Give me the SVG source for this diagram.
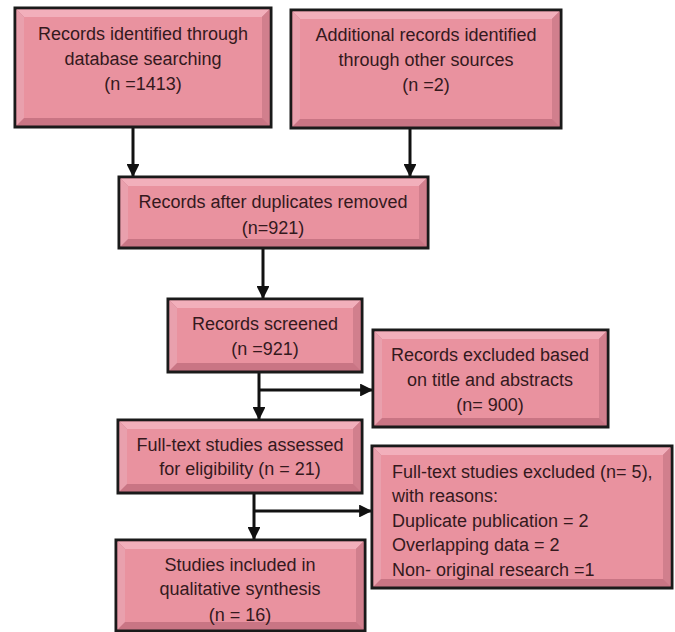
<svg xmlns="http://www.w3.org/2000/svg" width="675" height="632" viewBox="0 0 675 632">
<defs>
<style>
.frame{fill:#C97584;stroke:#1a1a1a;stroke-width:3}
.top{fill:#F2AFBB}
.left{fill:#E9A0AD}
.right{fill:#D17F8D}
.face{fill:#E9929F}
.t{font-family:"Liberation Sans",Arial,sans-serif;font-size:18px;fill:#34191d;text-anchor:middle}
.tl{font-family:"Liberation Sans",Arial,sans-serif;font-size:18px;fill:#34191d;text-anchor:start}
.ln{stroke:#111;stroke-width:3;fill:none}
</style>
<marker id="ah" viewBox="0 0 10 10" refX="10" refY="5" markerWidth="4.3" markerHeight="4.3" orient="auto" markerUnits="strokeWidth">
<path d="M0,0 L10,5 L0,10 Z" fill="#111"/>
</marker>
</defs>
<rect width="675" height="632" fill="#fff"/>

<g id="connectors">
<line class="ln" x1="133" y1="127" x2="133" y2="177" marker-end="url(#ah)"/>
<line class="ln" x1="410" y1="128" x2="410" y2="177" marker-end="url(#ah)"/>
<line class="ln" x1="263" y1="248" x2="263" y2="299" marker-end="url(#ah)"/>
<line class="ln" x1="259" y1="372" x2="259" y2="420" marker-end="url(#ah)"/>
<line class="ln" x1="259" y1="390" x2="373" y2="390" marker-end="url(#ah)"/>
<line class="ln" x1="254" y1="493" x2="254" y2="540" marker-end="url(#ah)"/>
<line class="ln" x1="254" y1="511" x2="372" y2="511" marker-end="url(#ah)"/>
</g>

<g id="n1">
<rect class="frame" x="15" y="8" width="256" height="119"/>
<polygon class="top" points="16.5,9.5 269.5,9.5 262,17 24,17"/>
<polygon class="left" points="16.5,9.5 24,17 24,118 16.5,125.5"/>
<polygon class="right" points="269.5,9.5 269.5,125.5 262,118 262,17"/>
<rect class="face" x="24" y="17" width="238" height="101"/>
<text class="t" x="143" y="40">Records identified through</text>
<text class="t" x="143" y="65">database searching</text>
<text class="t" x="143" y="90">(n =1413)</text>
</g>

<g id="n2">
<rect class="frame" x="291" y="10" width="270" height="118"/>
<polygon class="top" points="292.5,11.5 559.5,11.5 552,19 300,19"/>
<polygon class="left" points="292.5,11.5 300,19 300,119 292.5,126.5"/>
<polygon class="right" points="559.5,11.5 559.5,126.5 552,119 552,19"/>
<rect class="face" x="300" y="19" width="252" height="100"/>
<text class="t" x="426" y="41">Additional records identified</text>
<text class="t" x="426" y="66">through other sources</text>
<text class="t" x="426" y="91">(n =2)</text>
</g>

<g id="n3">
<rect class="frame" x="119" y="177" width="309" height="71"/>
<polygon class="top" points="120.5,178.5 426.5,178.5 419,186 128,186"/>
<polygon class="left" points="120.5,178.5 128,186 128,239 120.5,246.5"/>
<polygon class="right" points="426.5,178.5 426.5,246.5 419,239 419,186"/>
<rect class="face" x="128" y="186" width="291" height="53"/>
<text class="t" x="273" y="208">Records after duplicates removed</text>
<text class="t" x="273" y="234">(n=921)</text>
</g>

<g id="n4">
<rect class="frame" x="168" y="299" width="194" height="73"/>
<polygon class="top" points="169.5,300.5 360.5,300.5 353,308 177,308"/>
<polygon class="left" points="169.5,300.5 177,308 177,363 169.5,370.5"/>
<polygon class="right" points="360.5,300.5 360.5,370.5 353,363 353,308"/>
<rect class="face" x="177" y="308" width="176" height="55"/>
<text class="t" x="265" y="330">Records screened</text>
<text class="t" x="265" y="355">(n =921)</text>
</g>

<g id="n5">
<rect class="frame" x="373" y="330" width="235" height="97"/>
<polygon class="top" points="374.5,331.5 606.5,331.5 599,339 382,339"/>
<polygon class="left" points="374.5,331.5 382,339 382,418 374.5,425.5"/>
<polygon class="right" points="606.5,331.5 606.5,425.5 599,418 599,339"/>
<rect class="face" x="382" y="339" width="217" height="79"/>
<text class="t" x="490" y="361">Records excluded based</text>
<text class="t" x="490" y="386">on title and abstracts</text>
<text class="t" x="490" y="411">(n= 900)</text>
</g>

<g id="n6">
<rect class="frame" x="118" y="420" width="244" height="73"/>
<polygon class="top" points="119.5,421.5 360.5,421.5 353,429 127,429"/>
<polygon class="left" points="119.5,421.5 127,429 127,484 119.5,491.5"/>
<polygon class="right" points="360.5,421.5 360.5,491.5 353,484 353,429"/>
<rect class="face" x="127" y="429" width="226" height="55"/>
<text class="t" x="240" y="451">Full-text studies assessed</text>
<text class="t" x="240" y="475">for eligibility (n = 21)</text>
</g>

<g id="n7">
<rect class="frame" x="372" y="446" width="300" height="142"/>
<polygon class="top" points="373.5,447.5 670.5,447.5 663,455 381,455"/>
<polygon class="left" points="373.5,447.5 381,455 381,579 373.5,586.5"/>
<polygon class="right" points="670.5,447.5 670.5,586.5 663,579 663,455"/>
<rect class="face" x="381" y="455" width="282" height="124"/>
<text class="tl" x="392" y="478">Full-text studies excluded (n= 5),</text>
<text class="tl" x="392" y="502">with reasons:</text>
<text class="tl" x="392" y="527">Duplicate publication = 2</text>
<text class="tl" x="392" y="551">Overlapping data = 2</text>
<text class="tl" x="392" y="576">Non- original research =1</text>
</g>

<g id="n8">
<rect class="frame" x="116" y="540" width="249" height="91"/>
<polygon class="top" points="117.5,541.5 363.5,541.5 356,549 125,549"/>
<polygon class="left" points="117.5,541.5 125,549 125,622 117.5,629.5"/>
<polygon class="right" points="363.5,541.5 363.5,629.5 356,622 356,549"/>
<rect class="face" x="125" y="549" width="231" height="73"/>
<text class="t" x="240" y="571">Studies included in</text>
<text class="t" x="240" y="595">qualitative synthesis</text>
<text class="t" x="240" y="621">(n = 16)</text>
</g>
</svg>
